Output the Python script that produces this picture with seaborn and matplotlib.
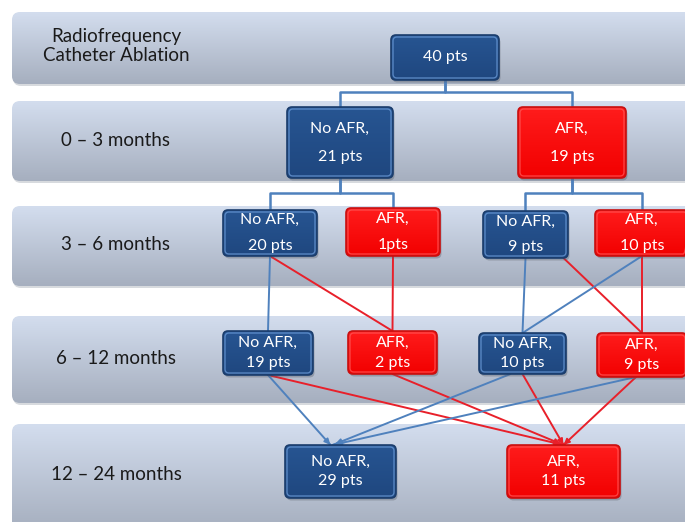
import numpy as np
import pandas as pd
import matplotlib
matplotlib.use("Agg")
import matplotlib.pyplot as plt
from matplotlib.patches import FancyBboxPatch
from matplotlib.colors import LinearSegmentedColormap
import seaborn as sns

# ---- data -------------------------------------------------------------
stages = ["Radiofrequency\nCatheter Ablation", "0 \u2013 3 months", "3 \u2013 6 months",
          "6 \u2013 12 months", "12 \u2013 24 months"]
node_stage = [0, 1, 1, 2, 2, 2, 2, 3, 3, 3, 3, 4, 4]
node_status = ["start", "No AFR", "AFR", "No AFR", "AFR", "No AFR", "AFR",
               "No AFR", "AFR", "No AFR", "AFR", "No AFR", "AFR"]
node_count = ["40 pts", "21 pts", "19 pts", "20 pts", "1pts", "9 pts", "10 pts",
              "19 pts", "2 pts", "10 pts", "9 pts", "29 pts", "11 pts"]
# branching of the first two steps (parent -> children)
tree_links = [(0, 1), (0, 2), (1, 3), (1, 4), (2, 5), (2, 6)]
# transitions between later follow-up windows
cross_links = [(3, 7), (3, 8), (4, 8), (5, 9), (5, 10), (6, 9), (6, 10),
               (7, 11), (7, 12), (8, 12), (9, 11), (9, 12), (10, 11), (10, 12)]

# ---- layout (pixel space, y downwards) --------------------------------
W, H = 685, 522
band_y = [(12, 84), (101, 181), (206, 286), (316, 403), (424, 530)]
label_y = [46, 140, 245, 358, 475]
node_xywh = [(445, 57.5, 108, 45), (340, 142.5, 106, 71), (572, 142.5, 108, 71),
             (270, 233, 94, 46), (393, 232, 94, 48), (525.5, 234.5, 85, 47),
             (642, 233, 94, 46), (268, 353, 90, 44), (392.5, 352.5, 89, 43),
             (522.5, 353.5, 87, 41), (642, 355, 90, 44), (340.5, 471.5, 111, 53),
             (563.5, 471.5, 113, 53)]
line_gap = [0, 28, 28, 26, 26, 26, 26, 20, 20, 20, 20, 20, 20]
bus_y = {0: 92, 1: 193, 2: 193}
src_dx = {(5, 10): 38, (9, 11): -12, (10, 11): -6, (10, 12): -6}
dst_dx = {(7, 11): -10, (9, 11): -8, (10, 11): -8}

BLUE_LINE = "#4f81bd"
RED_LINE = "#e8202a"
TXT = "#1a1a1a"

sns.set_theme(style="white")
plt.rcParams["font.family"] = ["Lato", "DejaVu Sans"]

fig = plt.figure(figsize=(W / 100, H / 100), dpi=100)
ax = fig.add_axes([0, 0, 1, 1])
ax.set_xlim(0, W)
ax.set_ylim(H, 0)
ax.axis("off")


def rounded(x0, y0, w, h, radius, **kw):
    p = FancyBboxPatch((x0, y0), w, h, boxstyle=f"round,pad=0,rounding_size={radius}", **kw)
    ax.add_patch(p)
    return p


def gradient_patch(x0, y0, w, h, top, bottom, radius, edge="none", lw=0, z=1):
    rounded(x0, y0, w, h, radius, facecolor="none", edgecolor=edge, linewidth=lw,
            zorder=z + 0.1)
    clip = rounded(x0, y0, w, h, radius, facecolor="none", edgecolor="none", zorder=z)
    cmap = LinearSegmentedColormap.from_list("g", [top, bottom])
    grad = np.linspace(0, 1, 64).reshape(-1, 1)
    im = ax.imshow(grad, cmap=cmap, extent=(x0, x0 + w, y0 + h, y0), origin="upper",
                   aspect="auto", zorder=z, interpolation="bicubic")
    im.set_clip_path(clip)


# stage bands
for (y0, y1), name, ly in zip(band_y, stages, label_y):
    rounded(13, y0 + 2, W + 40, y1 - y0, 8, facecolor="#8f96a3", edgecolor="none",
            alpha=0.35, zorder=0.5)
    gradient_patch(12, y0, W + 40, y1 - y0, "#d3ddee", "#a6afbf", 8, z=1)
    ax.text(116, ly, name, ha="center", va="center", fontsize=13.5, color=TXT,
            linespacing=1.2, zorder=5)

ax.set_xlim(0, W)
ax.set_ylim(H, 0)

# connector segments, collected into one frame
rows = []
seg = 0
for p, c in tree_links:
    px, py, pw, ph = node_xywh[p]
    cx, cy, cw, ch = node_xywh[c]
    by = bus_y[p]
    for x, y in [(px, py + ph / 2), (px, by), (cx, by), (cx, cy - ch / 2)]:
        rows.append(dict(seg=seg, x=x, y=y, kind="tree"))
    seg += 1
for s, d in cross_links:
    sx, sy, sw, sh = node_xywh[s]
    dx, dy, dw, dh = node_xywh[d]
    kind = "afr" if node_status[d] == "AFR" else "free"
    rows.append(dict(seg=seg, x=sx + src_dx.get((s, d), 0), y=sy + sh / 2, kind=kind))
    rows.append(dict(seg=seg, x=dx + dst_dx.get((s, d), 0), y=dy - dh / 2, kind=kind))
    seg += 1
links = pd.DataFrame(rows)

palette = {"tree": BLUE_LINE, "free": BLUE_LINE, "afr": RED_LINE}
for kind, grp in links.groupby("kind"):
    sns.lineplot(data=grp, x="x", y="y", units="seg", estimator=None, sort=False,
                 color=palette[kind], linewidth=1.8 if kind == "tree" else 1.4,
                 ax=ax, zorder=3, legend=False)

# small arrow tips into the last window
for s, d in cross_links:
    if node_stage[d] == 4:
        sx, sy, sw, sh = node_xywh[s]
        dx, dy, dw, dh = node_xywh[d]
        x0 = sx + src_dx.get((s, d), 0)
        x1 = dx + dst_dx.get((s, d), 0)
        y0, y1 = sy + sh / 2, dy - dh / 2
        col = RED_LINE if node_status[d] == "AFR" else BLUE_LINE
        t = 0.95
        ax.annotate("", xy=(x1, y1), xytext=(x0 + t * (x1 - x0), y0 + t * (y1 - y0)),
                    arrowprops=dict(arrowstyle="-|>,head_length=0.3,head_width=0.14",
                                    color=col, lw=1.2), zorder=3)

ax.set_xlim(0, W)
ax.set_ylim(H, 0)
ax.set_xlabel("")
ax.set_ylabel("")

# outcome boxes
for i, (x, y, w, h) in enumerate(node_xywh):
    status = node_status[i]
    if status == "AFR":
        top, bottom, edge, inner = "#ff1c1c", "#f20000", "#c81010", "#ff5a5a"
    else:
        top, bottom, edge, inner = "#275592", "#1f477f", "#1b3d6c", "#6f9fdc"
    rounded(x - w / 2 + 1.5, y - h / 2 + 2.5, w, h, 5, facecolor="#555b66",
            edgecolor="none", alpha=0.35, zorder=3.5)
    gradient_patch(x - w / 2, y - h / 2, w, h, top, bottom, 5, edge=edge, lw=1.2, z=4)
    rounded(x - w / 2 + 2, y - h / 2 + 2, w - 4, h - 4, 4, facecolor="none",
            edgecolor=inner, linewidth=1.0, alpha=0.7, zorder=4.2)
    if status == "start":
        ax.text(x, y, node_count[i], ha="center", va="center", color="white",
                fontsize=11.5, zorder=6)
    else:
        g = line_gap[i]
        ax.text(x, y - g / 2, f"{status},", ha="center", va="center", color="white",
                fontsize=11.5, zorder=6)
        ax.text(x, y + g / 2, node_count[i], ha="center", va="center", color="white",
                fontsize=11.5, zorder=6)

ax.set_xlim(0, W)
ax.set_ylim(H, 0)
fig.savefig("out.png", dpi=100, facecolor="white")
